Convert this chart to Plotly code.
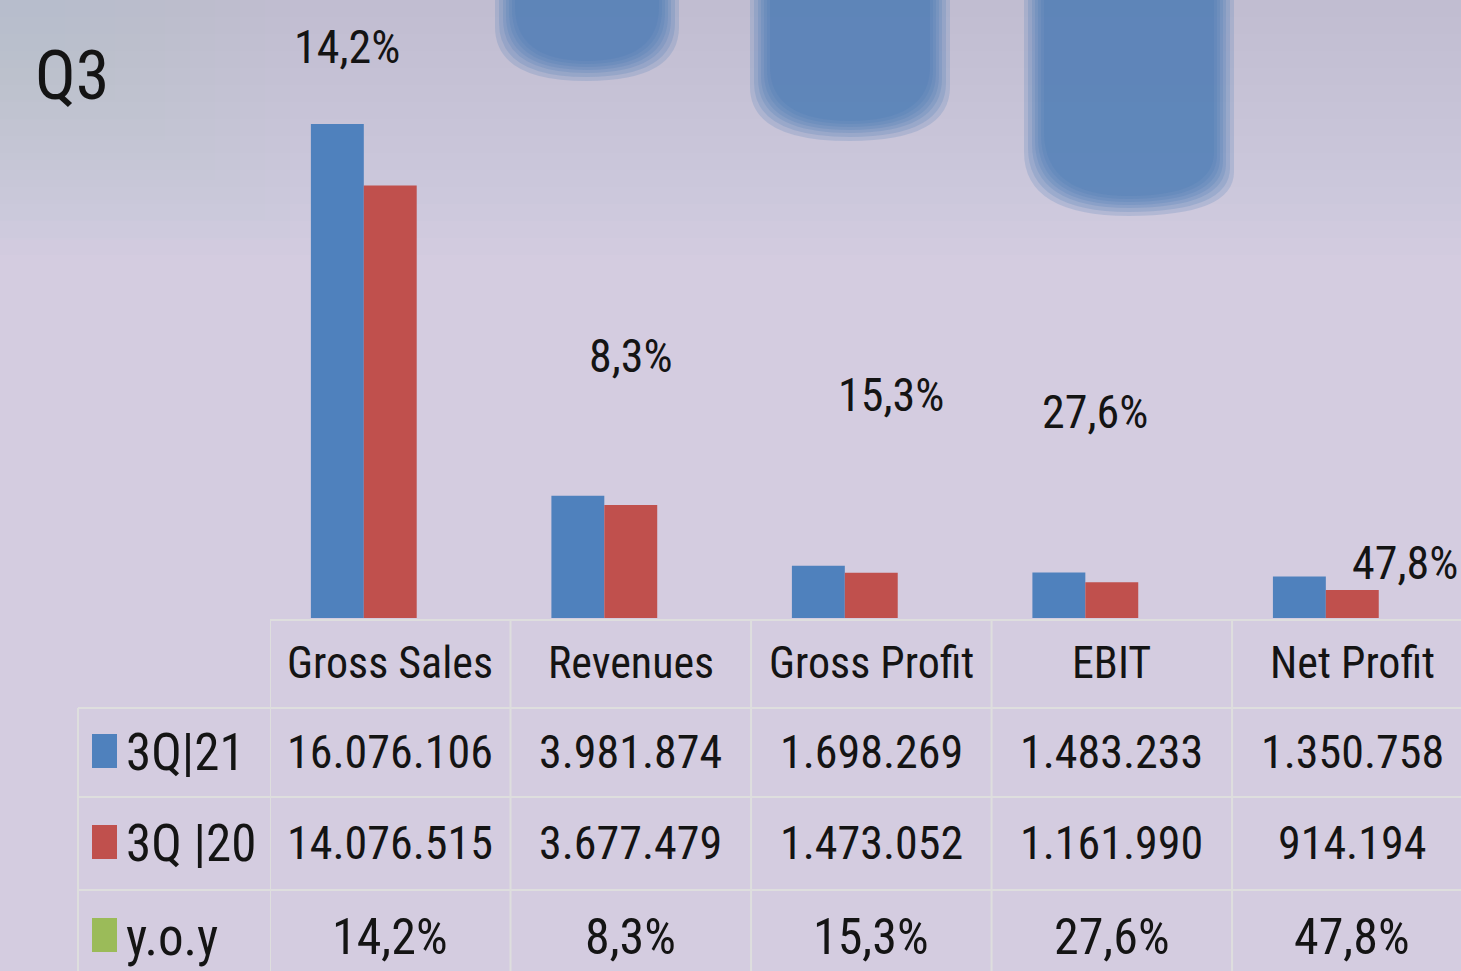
"""
Q3 results: grouped bars with a data table underneath.
"""

import plotly.graph_objects as go

categories = ["Gross Sales", "Revenues", "Gross Profit", "EBIT", "Net Profit"]
q3_21 = [16076106, 3981874, 1698269, 1483233, 1350758]
q3_20 = [14076515, 3677479, 1473052, 1161990, 914194]
yoy_pct = [14.2, 8.3, 15.3, 27.6, 47.8]
series_names = ["3Q|21", "3Q |20", "y.o.y"]

BLUE = "#4f81bd"
RED = "#c0504d"
GREEN = "#9bbb59"
INK = "#141414"
GRID = "#dedede"
FONT = "Liberation Sans Narrow, Roboto Condensed, Arial Narrow, sans-serif"

W, H = 1461, 971


def fmt_int(v):
    return f"{v:,}".replace(",", ".")


def fmt_pct(v):
    return f"{v:.1f}%".replace(".", ",")


def py(pix):
    # pixel row -> paper y
    return 1 - pix / H


def px_(pix):
    return pix / W


def blob_path(x0, x1, bottom_l, bottom_r, pad):
    # rounded-bottom block hanging from the top edge
    xl, xr = px_(x0 - pad), px_(x1 + pad)
    bl, br = py(bottom_l + pad), py(bottom_r + pad)
    xm = (xl + xr) / 2
    bm = py((bottom_l + bottom_r) / 2 + pad + 25)
    return (f"M {xl},1 L {xl},{bl + 0.03} Q {xl},{bm} {xm},{bm} "
            f"Q {xr},{bm} {xr},{br + 0.03} L {xr},1 Z")


fig = go.Figure()
fig.add_trace(go.Bar(x=categories, y=q3_21, name=series_names[0],
                     marker=dict(color=BLUE, line=dict(width=0))))
fig.add_trace(go.Bar(x=categories, y=q3_20, name=series_names[1],
                     marker=dict(color=RED, line=dict(width=0))))
# y.o.y is plotted as a ratio, so its bars are practically invisible
fig.add_trace(go.Bar(x=categories, y=[v / 100 for v in yoy_pct], name=series_names[2],
                     marker=dict(color=GREEN, line=dict(width=0))))

shapes = []
annotations = []

# --- fake photographic background -------------------------------------------
for i in range(1, 16):
    shapes.append(dict(type="rect", xref="paper", yref="paper", layer="below",
                       x0=0, x1=1, y0=py(i * 17), y1=1,
                       fillcolor="rgba(150,170,210,0.02)", line=dict(width=0)))
for i in range(1, 11):
    shapes.append(dict(type="rect", xref="paper", yref="paper", layer="below",
                       x0=0, x1=px_(40 + i * 25), y0=py(40 + i * 20), y1=1,
                       fillcolor="rgba(160,180,210,0.02)", line=dict(width=0)))
blobs = [(511, 663, 40, 40), (766, 934, 100, 100), (1040, 1218, 165, 185)]
for x0, x1, bl, br in blobs:
    for pad in [16, 12, 8, 5, 2, -1, -4]:
        shapes.append(dict(type="path", xref="paper", yref="paper", layer="below",
                           path=blob_path(x0, x1, bl, br, pad),
                           fillcolor="rgba(72,118,182,0.2)", line=dict(width=0)))

# --- data table -------------------------------------------------------------
row_lines = [620, 708, 797, 890]
for i, r in enumerate(row_lines):
    shapes.append(dict(type="line", xref="paper", yref="paper",
                       x0=px_(270 if i == 0 else 78), x1=1, y0=py(r), y1=py(r),
                       line=dict(color=GRID, width=2)))
for i in range(len(categories)):
    shapes.append(dict(type="line", xref="x", yref="paper",
                       x0=i - 0.5, x1=i - 0.5, y0=0, y1=py(620),
                       line=dict(color=GRID, width=2)))
shapes.append(dict(type="line", xref="paper", yref="paper",
                   x0=px_(78), x1=px_(78), y0=0, y1=py(708),
                   line=dict(color=GRID, width=2)))

row_y = [663, 752, 843, 937]
row_size = [44, 46, 46, 50]
for i, cat in enumerate(categories):
    cells = [cat, fmt_int(q3_21[i]), fmt_int(q3_20[i]), fmt_pct(yoy_pct[i])]
    for txt, ry, fs in zip(cells, row_y, row_size):
        annotations.append(dict(x=cat, xref="x", y=py(ry), yref="paper",
                                text=txt, showarrow=False,
                                xanchor="center", yanchor="middle",
                                font=dict(size=fs, color=INK, family=FONT)))

key_rows = [(734, 768), (825, 859), (918, 952)]
for (y0, y1), col, name, ty in zip(key_rows, [BLUE, RED, GREEN], series_names, row_y[1:]):
    shapes.append(dict(type="rect", xref="paper", yref="paper",
                       x0=px_(92), x1=px_(117), y0=py(y1), y1=py(y0),
                       fillcolor=col, line=dict(width=0)))
    annotations.append(dict(x=px_(124), xref="paper", y=py(ty), yref="paper",
                            text=name, showarrow=False,
                            xanchor="left", yanchor="middle",
                            font=dict(size=51, color=INK, family=FONT)))

# --- y.o.y labels above bars ------------------------------------------------
label_shift = [(-43, 77), (0, 140), (20, 171), (-17, 160), (53, 13)]
for i, cat in enumerate(categories):
    dx, dy = label_shift[i]
    annotations.append(dict(x=cat, xref="x", y=q3_21[i], yref="y",
                            text=fmt_pct(yoy_pct[i]), showarrow=False,
                            xanchor="center", yanchor="middle",
                            xshift=dx, yshift=dy,
                            font=dict(size=46, color=INK, family=FONT)))

annotations.append(dict(x=px_(33), xref="paper", y=py(76), yref="paper",
                        text="Q3", showarrow=False,
                        xanchor="left", yanchor="middle",
                        font=dict(size=68, color=INK, family=FONT)))

fig.update_layout(
    width=W, height=H,
    margin=dict(l=0, r=0, t=0, b=0),
    paper_bgcolor="#d4cce0",
    plot_bgcolor="rgba(0,0,0,0)",
    barmode="group",
    bargap=0.34,
    bargroupgap=0,
    showlegend=False,
    hovermode=False,
    shapes=shapes,
    annotations=annotations,
    xaxis=dict(domain=[px_(270), 1], range=[-0.5, 4.452],
               showticklabels=False, showgrid=False, zeroline=False,
               showline=False, ticks=""),
    yaxis=dict(domain=[py(618), 1], range=[0, 618 / 3.073e-5],
               showticklabels=False, showgrid=False, zeroline=False,
               showline=False, ticks=""),
)

fig.write_html("out.html", config={"displayModeBar": False},
               post_script="document.body.style.margin='0';")
